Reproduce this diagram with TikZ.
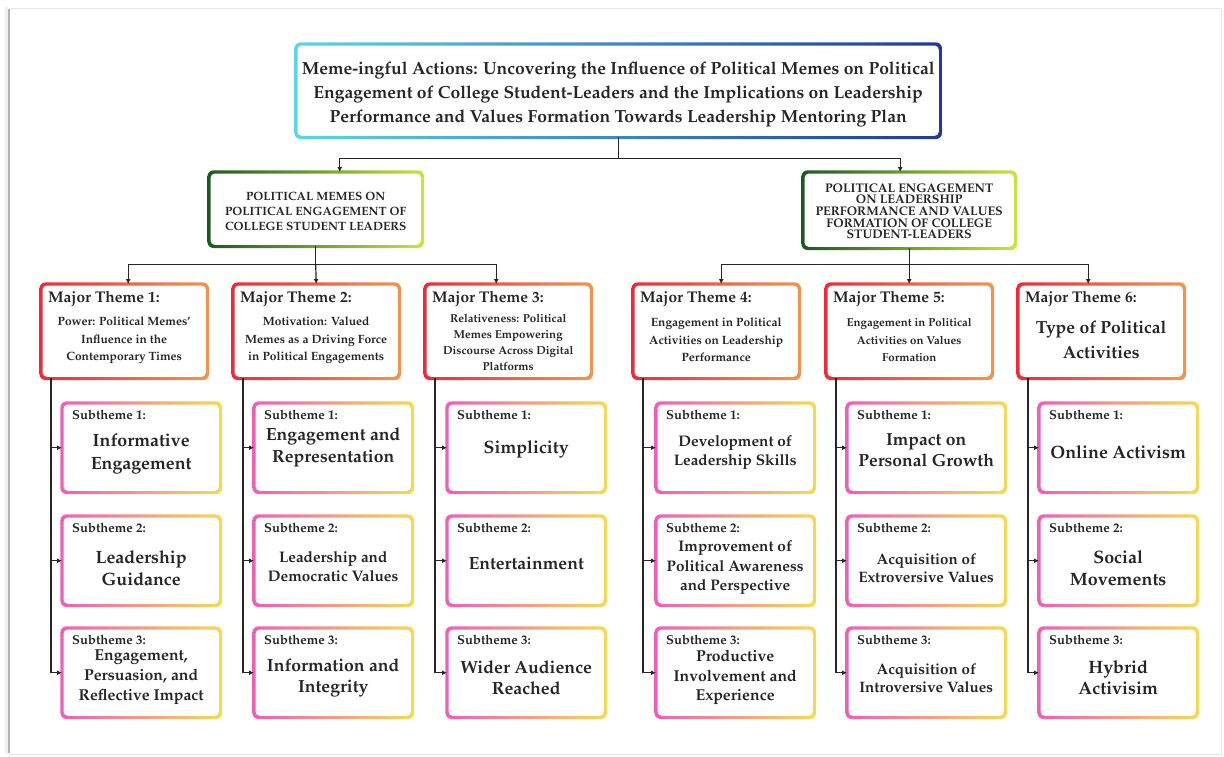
\documentclass[tikz,border=0pt]{standalone}
\usepackage[T1]{fontenc}
\usepackage{mathpazo}
\usetikzlibrary{arrows.meta,backgrounds,calc}
\newcommand{\fs}[2]{\fontsize{#1}{#2}\selectfont}
\definecolor{txt}{HTML}{262626}
\definecolor{tiL}{HTML}{5CD6E6}
\definecolor{tiR}{HTML}{1E3A9A}
\definecolor{brL}{HTML}{1B5A1E}
\definecolor{brR}{HTML}{C8E63C}
\definecolor{mjL}{HTML}{EE2A3A}
\definecolor{mjR}{HTML}{F5944E}
\definecolor{sbL}{HTML}{F25CBA}
\definecolor{sbR}{HTML}{F8DA4C}
\newcommand{\ring}[3]{%
  \shade[left color=#2, right color=#3, rounded corners=6pt]
    ([shift={(-1.6,-1.6)}]#1.north west) rectangle ([shift={(1.6,1.6)}]#1.south east);
  \fill[white, rounded corners=4.5pt]
    ([shift={(1.5,1.5)}]#1.north west) rectangle ([shift={(-1.5,-1.5)}]#1.south east);}
\newcommand{\major}[6]{% name,x,head,font,text,offset
  \node[mbox] (#1) at (#2,284) {};
  \node[mlab] (#1h) at ([shift={(7,18)}]#1.north west) {#3};
  \node[body, font=\bfseries#4] (#1t) at ([shift={(0,#6)}]#1.center) {#5};}
\newcommand{\subt}[7]{% name,x,y,label,font,text,offset
  \node[sbox] (#1) at (#2,#3) {};
  \node[slab] (#1h) at ([shift={(10,16)}]#1.north west) {#4};
  \node[body, font=\bfseries#5] (#1t) at ([shift={(0,#7)}]#1.center) {#6};}
\begin{document}
\begin{tikzpicture}[x=1pt,y=-1pt,
  box/.style={anchor=north west, inner sep=0pt, text=txt},
  mbox/.style={box, minimum width=166pt, minimum height=94pt},
  sbox/.style={box, minimum width=158pt, minimum height=89pt},
  mlab/.style={anchor=base west, inner sep=0pt, text=txt, font=\bfseries\fs{15.5}{18}},
  slab/.style={anchor=base west, inner sep=0pt, text=txt, font=\bfseries\fs{13}{15}},
  body/.style={align=center, inner sep=0pt, text=txt},
  ln/.style={line width=1.2pt, draw=black!85},
  arr/.style={ln, -{Latex[length=5pt,width=5pt]}},
]
\useasboundingbox (0,0) rectangle (1224,756);
% page frame
\draw[black!10, line width=1pt] (9,8) rectangle (1221,754);
\draw[black!30, line width=2pt] (9,9) -- (9,753);
\draw[black!6, line width=3pt] (6,7) -- (6,754);

% title
\node[box, minimum width=644pt, minimum height=93pt] (title) at (296,44) {};
\node[body, font=\bfseries\fs{17.5}{24}] (titlet) at ([shift={(0,4)}]title.center)
  {Meme-ingful Actions: Uncovering the Influence of Political Memes on Political\\
   Engagement of College Student-Leaders and the Implications on Leadership\\
   Performance and Values Formation Towards Leadership Mentoring Plan};

% branches
\node[box, minimum width=213pt, minimum height=74pt] (b1) at (209,172) {};
\node[body, font=\bfseries\fs{12}{15}] (b1t) at ([shift={(0,2)}]b1.center)
  {POLITICAL MEMES ON\\POLITICAL ENGAGEMENT OF\\COLLEGE STUDENT LEADERS};
\node[box, minimum width=212pt, minimum height=76pt] (b2) at (803,172) {};
\node[body, font=\bfseries\fs{12.5}{11.7}] (b2t) at ([shift={(0,1)}]b2.center)
  {POLITICAL ENGAGEMENT\\ON LEADERSHIP\\PERFORMANCE AND VALUES\\FORMATION OF COLLEGE\\STUDENT-LEADERS};

% major themes
\major{m1}{41}{Major Theme 1:}{\fs{12}{17.5}}{Power: Political Memes'\\Influence in the\\Contemporary Times}{9}
\major{m2}{233}{Major Theme 2:}{\fs{12}{17.5}}{Motivation: Valued\\Memes as a Driving Force\\in Political Engagements}{9}
\major{m3}{425}{Major Theme 3:}{\fs{11.5}{16}}{Relativeness: Political\\Memes Empowering\\Discourse Across Digital\\Platforms}{11}
\major{m4}{633}{Major Theme 4:}{\fs{12}{17.5}}{Engagement in Political\\Activities on Leadership\\Performance}{9}
\major{m5}{826}{Major Theme 5:}{\fs{11.5}{17.5}}{Engagement in Political\\Activities on Values\\Formation}{9}
\major{m6}{1018}{Major Theme 6:}{\fs{17.5}{25}}{Type of Political\\Activities}{9}

% subthemes
\subt{s11}{62}{403}{Subtheme 1:}{\fs{17.8}{23}}{Informative\\Engagement}{6}
\subt{s12}{62}{516}{Subtheme 2:}{\fs{17.8}{22}}{Leadership\\Guidance}{7}
\subt{s13}{62}{628}{Subtheme 3:}{\fs{15.8}{20}}{Engagement,\\Persuasion, and\\Reflective Impact}{5}
\subt{s21}{254}{403}{Subtheme 1:}{\fs{17.6}{22}}{Engagement and\\Representation}{0}
\subt{s22}{254}{516}{Subtheme 2:}{\fs{15.3}{18.5}}{Leadership and\\Democratic Values}{6}
\subt{s23}{254}{628}{Subtheme 3:}{\fs{17.6}{21.5}}{Information and\\Integrity}{5}
\subt{s31}{447}{403}{Subtheme 1:}{\fs{17.8}{22}}{Simplicity}{2}
\subt{s32}{447}{516}{Subtheme 2:}{\fs{17.6}{22}}{Entertainment}{3}
\subt{s33}{447}{628}{Subtheme 3:}{\fs{17.7}{21}}{Wider Audience\\Reached}{5}
\subt{s41}{656}{403}{Subtheme 1:}{\fs{15.3}{19}}{Development of\\Leadership Skills}{5}
\subt{s42}{656}{516}{Subtheme 2:}{\fs{15.3}{19.5}}{Improvement of\\Political Awareness\\and Perspective}{7}
\subt{s43}{656}{628}{Subtheme 3:}{\fs{15.8}{19.5}}{Productive\\Involvement and\\Experience}{5}
\subt{s51}{847}{403}{Subtheme 1:}{\fs{17.5}{21}}{Impact on\\Personal Growth}{3}
\subt{s52}{847}{516}{Subtheme 2:}{\fs{15.1}{18}}{Acquisition of\\Extroversive Values}{7}
\subt{s53}{847}{628}{Subtheme 3:}{\fs{15.1}{18}}{Acquisition of\\Introversive Values}{5}
\subt{s61}{1039}{403}{Subtheme 1:}{\fs{17.9}{22}}{Online Activism}{4}
\subt{s62}{1039}{516}{Subtheme 2:}{\fs{17.9}{22}}{Social\\Movements}{7}
\subt{s63}{1039}{628}{Subtheme 3:}{\fs{17.9}{21}}{Hybrid\\Activisim}{5}

% gradient borders
\begin{scope}[on background layer]
  \ring{title}{tiL}{tiR}
  \ring{b1}{brL}{brR}
  \ring{b2}{brL}{brR}
  \foreach \m in {m1,m2,m3,m4,m5,m6}{\ring{\m}{mjL}{mjR}}
  \foreach \c in {1,...,6}{\foreach \r in {1,2,3}{\ring{s\c\r}{sbL}{sbR}}}
\end{scope}

% connectors
\draw[ln] (title.south) -- ++(0,21) coordinate (tj);
\draw[arr] (tj) -| ([xshift=24pt]b1.north);
\draw[arr] (tj) -| ([xshift=-9pt]b2.north);

\draw[ln] (b1.south) -- ++(0,18) coordinate (lj);
\draw[arr] (lj) -| ([xshift=4pt]m1.north);
\draw[arr] (lj) -- (m2.north);
\draw[arr] (lj) -| ([xshift=-12pt]m3.north);

\draw[ln] (b2.south) -- ++(0,16) coordinate (rj);
\draw[arr] (rj) -| ([xshift=5pt]m4.north);
\draw[arr] (rj) -- (m5.north);
\draw[arr] (rj) -| ([xshift=-13pt]m6.north);

\foreach \c in {1,...,6}{
  \coordinate (sp\c) at ([xshift=10pt]m\c.south west);
  \draw[arr] (sp\c) |- (s\c3.west);
  \draw[arr] (sp\c |- s\c1.west) -- (s\c1.west);
  \draw[arr] (sp\c |- s\c2.west) -- (s\c2.west);
}
\end{tikzpicture}
\end{document}
